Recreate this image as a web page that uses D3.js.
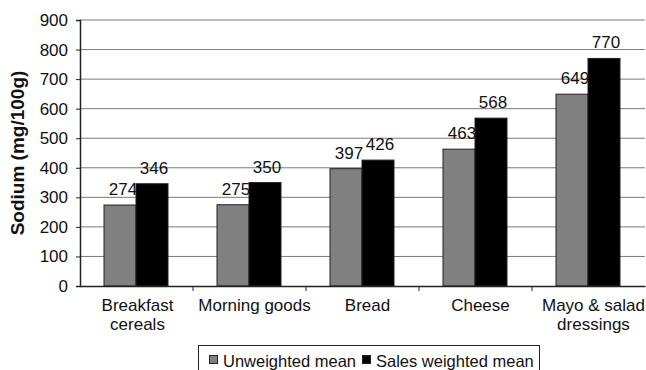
<!DOCTYPE html>
<html>
<head>
<meta charset="utf-8">
<script src="https://cdn.jsdelivr.net/npm/d3@7"></script>
<style>
  body { margin: 0; background: #fff; }
  text { font-family: Arial, "Liberation Sans", sans-serif; fill: #111; }
</style>
</head>
<body>
<div id="chart"></div>
<script>
// data
const categories = ["Breakfast cereals", "Morning goods", "Bread", "Cheese", "Mayo & salad dressings"]
const categoryLines = [["Breakfast", "cereals"], ["Morning goods"], ["Bread"], ["Cheese"], ["Mayo & salad", "dressings"]]
const unweighted = [274, 275, 397, 463, 649]
const salesWeighted = [346, 350, 426, 568, 770]
const yTicks = [0, 100, 200, 300, 400, 500, 600, 700, 800, 900]
const seriesNames = ["Unweighted mean", "Sales weighted mean"]
const seriesColors = ["#808080", "#000000"]

var margin = { top: 20, right: 1, bottom: 84, left: 80 },
    width = 646 - margin.left - margin.right,
    height = 370 - margin.top - margin.bottom;

let svg = d3.select("#chart")
    .append("svg")
    .attr("width", 646)
    .attr("height", 370)

let g = svg.append("g")
    .attr("transform", "translate(" + margin.left + "," + margin.top + ")")

let xScale = d3.scaleBand()
    .domain(categories)
    .range([0, width])
    .paddingInner(0)
    .paddingOuter(0)

let yScale = d3.scaleLinear()
    .domain([0, 900])
    .range([height, 0])

let inner = d3.scaleBand()
    .domain([0, 1])
    .range([24, xScale.bandwidth() - 25])

// gridlines
g.append("g")
    .selectAll("line")
    .data(yTicks.slice(1))
    .enter()
    .append("line")
    .attr("x1", 0)
    .attr("x2", width)
    .attr("y1", d => yScale(d))
    .attr("y2", d => yScale(d))
    .attr("stroke", "#7a7a7a")
    .attr("stroke-width", 1)

// bars
const series = [unweighted, salesWeighted]
series.forEach(function (vals, si) {
    g.append("g")
        .selectAll("rect")
        .data(vals)
        .enter()
        .append("rect")
        .attr("x", (d, i) => xScale(categories[i]) + inner(si))
        .attr("y", d => yScale(d))
        .attr("width", inner.bandwidth())
        .attr("height", d => height - yScale(d))
        .attr("fill", seriesColors[si])
        .attr("stroke", "#222")
        .attr("stroke-width", 1)

    g.append("g")
        .selectAll("text")
        .data(vals)
        .enter()
        .append("text")
        .attr("x", (d, i) => xScale(categories[i]) + inner(si) + inner.bandwidth() / 2 + (si == 0 ? 3 : 2))
        .attr("y", d => yScale(d) - 10)
        .attr("text-anchor", "middle")
        .style("font-size", "17px")
        .text(d => d)
})

// y axis
let yAxis = g.append("g")
    .call(d3.axisLeft(yScale).tickValues(yTicks).tickSize(4).tickPadding(8))
yAxis.select(".domain").attr("stroke", "#222").attr("stroke-width", 1.5)
yAxis.selectAll(".tick line").attr("stroke", "#222")
yAxis.selectAll(".tick text").style("font-size", "17px").attr("fill", "#111")
yAxis.attr("font-family", null)

// x axis
let xAxis = g.append("g")
    .attr("transform", "translate(0," + height + ")")
    .call(d3.axisBottom(xScale).tickValues([]).tickSizeOuter(0))
xAxis.select(".domain").attr("stroke", "#222").attr("stroke-width", 1.5)

// category ticks at band edges
g.append("g")
    .selectAll("line")
    .data(categories.slice(1))
    .enter()
    .append("line")
    .attr("x1", d => xScale(d))
    .attr("x2", d => xScale(d))
    .attr("y1", height)
    .attr("y2", height + 5)
    .attr("stroke", "#222")

// category labels (sit a little right of band centre, as in the original)
g.append("g")
    .selectAll("text")
    .data(categories)
    .enter()
    .append("text")
    .attr("y", height + 25)
    .attr("text-anchor", "middle")
    .style("font-size", "17px")
    .each(function (d, i) {
        d3.select(this).selectAll("tspan")
            .data(categoryLines[i])
            .enter()
            .append("tspan")
            .attr("x", xScale(d) + xScale.bandwidth() / 2 + (i == 0 ? 1 : 5))
            .attr("dy", (t, j) => j == 0 ? 0 : 19)
            .text(t => t)
    })

// y-axis title
svg.append("text")
    .attr("transform", "translate(24," + (margin.top + height / 2) + ") rotate(-90)")
    .attr("text-anchor", "middle")
    .style("font-size", "19px")
    .style("font-weight", "bold")
    .text("Sodium (mg/100g)")

// legend
let legend = svg.append("g")
legend.append("rect")
    .attr("x", 198.5)
    .attr("y", 345.5)
    .attr("width", 341)
    .attr("height", 30)
    .attr("fill", "#fff")
    .attr("stroke", "#222")

const legendX = [209, 362]
seriesNames.forEach(function (name, i) {
    legend.append("rect")
        .attr("x", legendX[i] + 0.5)
        .attr("y", 355.5)
        .attr("width", 8)
        .attr("height", 8)
        .attr("fill", seriesColors[i])
        .attr("stroke", "#222")
    legend.append("text")
        .attr("x", legendX[i] + 14)
        .attr("y", 367)
        .style("font-size", "16.5px")
        .text(name)
})
</script>
</body>
</html>
